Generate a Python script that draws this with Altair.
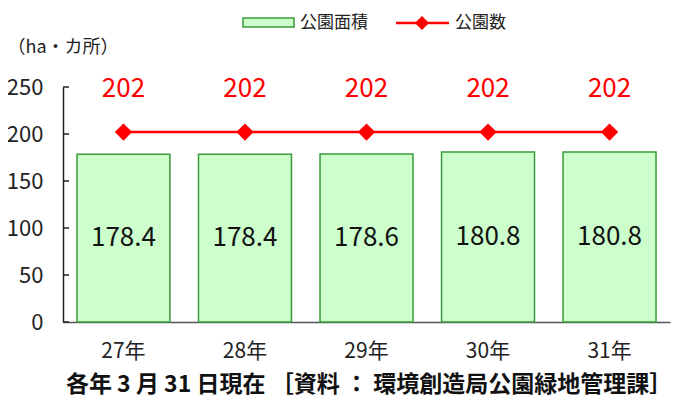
import altair as alt
import pandas as pd

years = ["27年", "28年", "29年", "30年", "31年"]
area = [178.4, 178.4, 178.6, 180.8, 180.8]
parks = [202, 202, 202, 202, 202]
y_ticks = [0, 50, 100, 150, 200, 250]

legend_area = "公園面積"
legend_parks = "公園数"
y_title = "（ha・カ所）"
footnote = "各年 3 月 31 日現在 ［資料 ： 環境創造局公園緑地管理課］"

FONT = "Noto Sans CJK JP"

df = pd.DataFrame({"year": years, "area": area, "parks": parks})
ticks_df = pd.DataFrame({"v": y_ticks})

x_enc = alt.X(
    "year:N",
    sort=years,
    scale=alt.Scale(paddingInner=0.235, paddingOuter=0.115),
    axis=alt.Axis(
        title=None, labelAngle=0, ticks=False, labelPadding=18,
        labelFontSize=21, labelColor="#222", labelFont=FONT,
        domainColor="#555", domainWidth=1.5,
    ),
)
y_scale = alt.Scale(domain=[0, 250], nice=False)
y_axis = alt.Axis(
    values=y_ticks, grid=False, labelFontSize=22, labelColor="#222",
    labelFont=FONT, labelPadding=20, ticks=False,
    domainColor="#222", domainWidth=1.5,
    title=y_title, titleAngle=0, titleAlign="left", titleBaseline="middle",
    titleX=-56, titleY=-40, titleFontSize=18, titleFontWeight="normal",
    titleColor="#222", titleFont=FONT,
)

base = alt.Chart(df)

bars = base.mark_bar(fill="#ccffcc", stroke="#3a9a3a", strokeWidth=1.5).encode(
    x=x_enc,
    y=alt.Y("area:Q", scale=y_scale, axis=y_axis),
)

tick_marks = alt.Chart(ticks_df).mark_rule(color="#222", strokeWidth=1.5).encode(
    y=alt.Y("v:Q", scale=y_scale),
    x=alt.value(0),
    x2=alt.value(6),
)

bar_labels = base.transform_calculate(mid="datum.area / 2").mark_text(
    fontSize=26, font=FONT, color="#111", baseline="middle"
).encode(
    x=alt.X("year:N", sort=years),
    y=alt.Y("mid:Q", scale=y_scale),
    text=alt.Text("area:Q", format=".1f"),
)

line = base.mark_line(color="#ff0000", strokeWidth=2.5).encode(
    x=alt.X("year:N", sort=years),
    y=alt.Y("parks:Q", scale=y_scale),
)
points = base.mark_point(shape="diamond", filled=True, color="#ff0000", size=300, opacity=1).encode(
    x=alt.X("year:N", sort=years),
    y=alt.Y("parks:Q", scale=y_scale),
)
park_labels = base.mark_text(
    fontSize=26, font=FONT, color="#ff0000", dy=-43, baseline="middle"
).encode(
    x=alt.X("year:N", sort=years),
    y=alt.Y("parks:Q", scale=y_scale),
    text="parks:Q",
)

one = alt.Chart(pd.DataFrame({"k": [0]}))
leg_rect = one.mark_rect(fill="#ccffcc", stroke="#3a9a3a", strokeWidth=1.5).encode(
    x=alt.value(180), x2=alt.value(231), y=alt.value(-69), y2=alt.value(-60)
)
leg_text1 = one.mark_text(align="left", baseline="middle", fontSize=17, font=FONT, color="#222").encode(
    x=alt.value(237), y=alt.value(-64), text=alt.value(legend_area)
)
leg_line = one.mark_rule(color="#ff0000", strokeWidth=2.5).encode(
    x=alt.value(333), x2=alt.value(386), y=alt.value(-64)
)
leg_pt = one.mark_point(shape="diamond", filled=True, color="#ff0000", size=200, opacity=1).encode(
    x=alt.value(359), y=alt.value(-64)
)
leg_text2 = one.mark_text(align="left", baseline="middle", fontSize=17, font=FONT, color="#222").encode(
    x=alt.value(392), y=alt.value(-64), text=alt.value(legend_parks)
)
foot = one.mark_text(align="center", baseline="middle", fontSize=23, fontWeight="bold", font=FONT, color="#111").encode(
    x=alt.value(306), y=alt.value(298), text=alt.value(footnote)
)

chart = alt.layer(
    bars, tick_marks, bar_labels, line, points, park_labels,
    leg_rect, leg_text1, leg_line, leg_pt, leg_text2, foot,
).properties(
    width=607, height=235,
    autosize=alt.AutoSizeParams(type="none"),
    padding={"left": 55, "top": 79, "right": 10, "bottom": 80},
).configure_view(stroke=None)

chart.save("out.html", embed_options={"renderer": "svg", "actions": False})
